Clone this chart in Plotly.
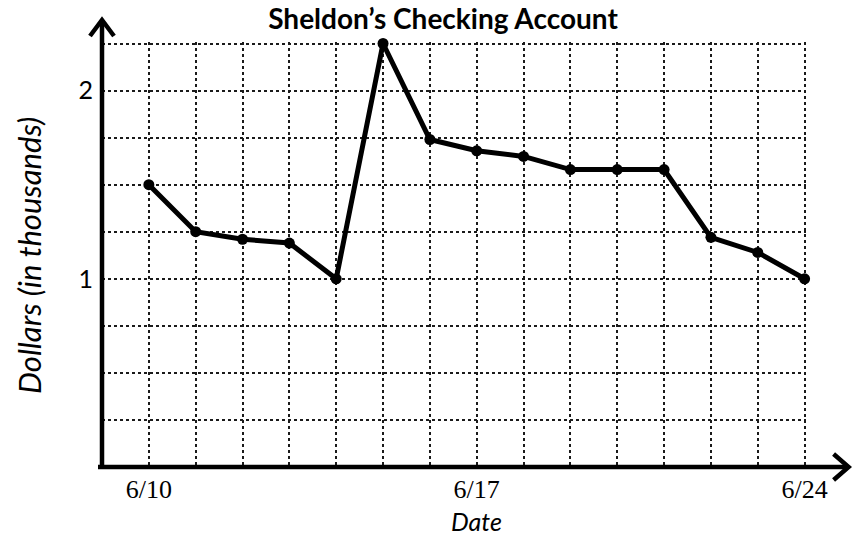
import plotly.graph_objects as go

# June day of month and balance in thousands of dollars
days = [10, 11, 12, 13, 14, 15, 16, 17, 18, 19, 20, 21, 22, 23, 24]
balance = [1.5, 1.25, 1.21, 1.19, 1.0, 2.25, 1.74, 1.68, 1.65, 1.58, 1.58, 1.58, 1.22, 1.14, 1.0]

x_tick_vals = [10, 17, 24]
x_tick_text = ["6/10", "6/17", "6/24"]
y_tick_vals = [1, 2]
y_tick_text = ["1", "2"]

X_RANGE = [9, 24.03]
Y_RANGE = [0, 2.258]

# Figure geometry (pixels)
W, H = 855, 537
L, T = 102, 42
PW = 704.4
PH = 425
R = W - L - PW
B = H - T - PH


def px(xp):
    return (xp - L) / PW


def py(yp):
    return (T + PH - yp) / PH


fig = go.Figure()
fig.add_trace(go.Scatter(
    x=days, y=balance, mode="lines+markers",
    line=dict(color="black", width=5),
    marker=dict(color="black", size=11),
    cliponaxis=False, showlegend=False,
))

grid = dict(showgrid=True, gridcolor="#1a1a1a", griddash="dot", gridwidth=1.6)

fig.update_xaxes(
    range=X_RANGE, tickvals=x_tick_vals, ticktext=x_tick_text,
    tickfont=dict(family="Liberation Serif", size=26, color="black"),
    ticks="", ticklabelstandoff=4, zeroline=False, showline=False,
    minor=dict(dtick=1, tick0=9, **grid), **grid,
)
fig.update_yaxes(
    range=Y_RANGE, tickvals=y_tick_vals, ticktext=y_tick_text,
    tickfont=dict(family="Lato", size=25, color="black"),
    ticks="", ticklabelstandoff=8, zeroline=False, showline=False,
    minor=dict(dtick=0.25, tick0=0, **grid), **grid,
)

axis_y0 = T + PH  # pixel row of the horizontal axis
axis_style = dict(color="black", width=4.5)
shapes = [
    # horizontal axis with open arrowhead
    dict(type="line", xref="paper", yref="paper", x0=px(98), x1=px(848),
         y0=py(axis_y0), y1=py(axis_y0), line=axis_style),
    dict(type="path", xref="paper", yref="paper",
         path=f"M {px(834)},{py(axis_y0 - 13)} L {px(849)},{py(axis_y0)} L {px(834)},{py(axis_y0 + 13)}",
         line=axis_style),
    # vertical axis with open arrowhead
    dict(type="line", xref="paper", yref="paper", x0=px(L), x1=px(L),
         y0=py(axis_y0 + 2), y1=py(21), line=axis_style),
    dict(type="path", xref="paper", yref="paper",
         path=f"M {px(L - 12)},{py(36)} L {px(L)},{py(20)} L {px(L + 12)},{py(36)}",
         line=axis_style),
]

annotations = [
    dict(x=px(477), y=py(537), xref="paper", yref="paper", text="<i>Date</i>", showarrow=False,
         font=dict(family="Lato", size=25, color="black"), xanchor="center", yanchor="bottom",
         borderpad=0),
    dict(x=px(29), y=py(256), xref="paper", yref="paper", text="<i>Dollars (in thousands)</i>",
         showarrow=False, textangle=-90,
         font=dict(family="Lato", size=31, color="black"), xanchor="center", yanchor="middle"),
]

fig.update_layout(
    width=W, height=H,
    margin=dict(l=L, r=R, t=T, b=B),
    paper_bgcolor="white", plot_bgcolor="white",
    title=dict(text="<b>Sheldon’s Checking Account</b>", x=443 / W, xanchor="center",
               y=1 - 19 / H, yanchor="middle",
               font=dict(family="Lato", size=28, color="black")),
    shapes=shapes,
    annotations=annotations,
)

fig.write_html("out.html")
